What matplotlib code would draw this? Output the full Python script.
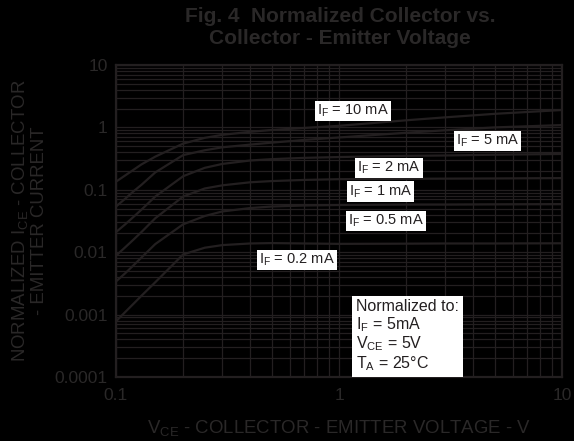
import numpy as np
import matplotlib
matplotlib.use("Agg")
import matplotlib.pyplot as plt

plt.rcParams['font.family'] = ['Liberation Sans', 'DejaVu Sans']
plt.rcParams['mathtext.fontset'] = 'custom'
plt.rcParams['mathtext.rm'] = 'Liberation Sans'

# V_CE sample points (V)
vce = [0.1, 0.11, 0.12, 0.13, 0.15, 0.2, 0.25, 0.3, 0.4, 0.5, 0.7, 1, 2, 3, 5, 10]

# normalized collector current for each forward current
if_10ma = [0.135, 0.17, 0.21, 0.255, 0.34, 0.55, 0.68, 0.76, 0.85, 0.91, 0.98, 1.06, 1.3, 1.45, 1.65, 1.9]
if_5ma = [0.054, 0.072, 0.095, 0.12, 0.19, 0.36, 0.43, 0.48, 0.53, 0.57, 0.63, 0.69, 0.82, 0.9, 1.0, 1.09]
if_2ma = [0.021, 0.028, 0.037, 0.048, 0.078, 0.165, 0.225, 0.26, 0.295, 0.31, 0.325, 0.335, 0.35, 0.355, 0.365, 0.375]
if_1ma = [0.0088, 0.012, 0.016, 0.021, 0.035, 0.078, 0.105, 0.118, 0.132, 0.138, 0.144, 0.148, 0.15, 0.151, 0.152, 0.154]
if_05ma = [0.0034, 0.0046, 0.0062, 0.0082, 0.0135, 0.028, 0.038, 0.045, 0.051, 0.054, 0.056, 0.057, 0.058, 0.058, 0.0585, 0.059]
if_02ma = [0.00078, 0.0011, 0.0015, 0.002, 0.0033, 0.0092, 0.0118, 0.013, 0.0138, 0.014, 0.0138, 0.0136, 0.0137, 0.0138, 0.0138, 0.0139]

curves = [if_10ma, if_5ma, if_2ma, if_1ma, if_05ma, if_02ma]

# label text and where it sits (data coords)
labels = ['I$_\\mathregular{F}$ = 10 mA', 'I$_\\mathregular{F}$ = 5 mA',
          'I$_\\mathregular{F}$ = 2 mA', 'I$_\\mathregular{F}$ = 1 mA',
          'I$_\\mathregular{F}$ = 0.5 mA', 'I$_\\mathregular{F}$ = 0.2 mA']
label_x = [1.156, 4.63, 1.68, 1.535, 1.625, 0.649]
label_y = [1.83, 0.605, 0.223, 0.094, 0.0316, 0.0075]

dark = '#231f20'
gray = '#2a2828'

fig = plt.figure(figsize=(5.74, 4.41), dpi=100, facecolor='black')
ax = fig.add_axes([116 / 574, 64 / 441, 446 / 574, 312 / 441])
ax.set_facecolor('black')

for c in curves:
    ax.plot(vce, c, color=dark, lw=1.6)

ax.set_xscale('log')
ax.set_yscale('log')
ax.set_xlim(0.1, 10)
ax.set_ylim(0.0001, 10)

ax.grid(True, which='both', color=dark, lw=0.9)
ax.set_axisbelow(True)
for s in ax.spines.values():
    s.set_color(dark)
    s.set_linewidth(1.6)

ax.set_xticks([0.1, 1, 10])
ax.set_xticklabels(['0.1', '1', '10'])
ax.set_yticks([0.0001, 0.001, 0.01, 0.1, 1, 10])
ax.set_yticklabels(['0.0001', '0.001', '0.01', '0.1', '1', '10'])
ax.tick_params(which='both', length=0, colors=gray, labelsize=12.5)
ax.tick_params(axis='x', pad=8)
ax.tick_params(axis='y', pad=6)

for txt, x, y in zip(labels, label_x, label_y):
    ax.text(x, y, txt, ha='center', va='center', fontsize=10.5, color=dark,
            bbox=dict(facecolor='white', edgecolor='none', pad=1.5))

ax.text(0.538, 0.012, 'Normalized to:\nI$_\\mathregular{F}$ = 5mA\nV$_\\mathregular{CE}$ = 5V\nT$_\\mathregular{A}$ = 25°C',
        transform=ax.transAxes, ha='left', va='bottom', fontsize=11.5, color=dark,
        linespacing=1.08, bbox=dict(facecolor='white', edgecolor='none', pad=3))

ax.set_xlabel('V$_\\mathregular{CE}$ - COLLECTOR - EMITTER VOLTAGE - V', fontsize=13.4,
              color=gray, labelpad=11)
ax.set_ylabel('NORMALIZED I$_\\mathregular{CE}$ - COLLECTOR\n- EMITTER CURRENT', fontsize=13.4,
              color=gray, labelpad=5, linespacing=1.0)

fig.text(340 / 574, 1 - 7 / 441, 'Fig. 4  Normalized Collector vs.\nCollector - Emitter Voltage',
         ha='center', va='top', fontsize=15, fontweight='bold', color=gray, linespacing=1.2)

fig.savefig('out.png', dpi=100, facecolor='black')
